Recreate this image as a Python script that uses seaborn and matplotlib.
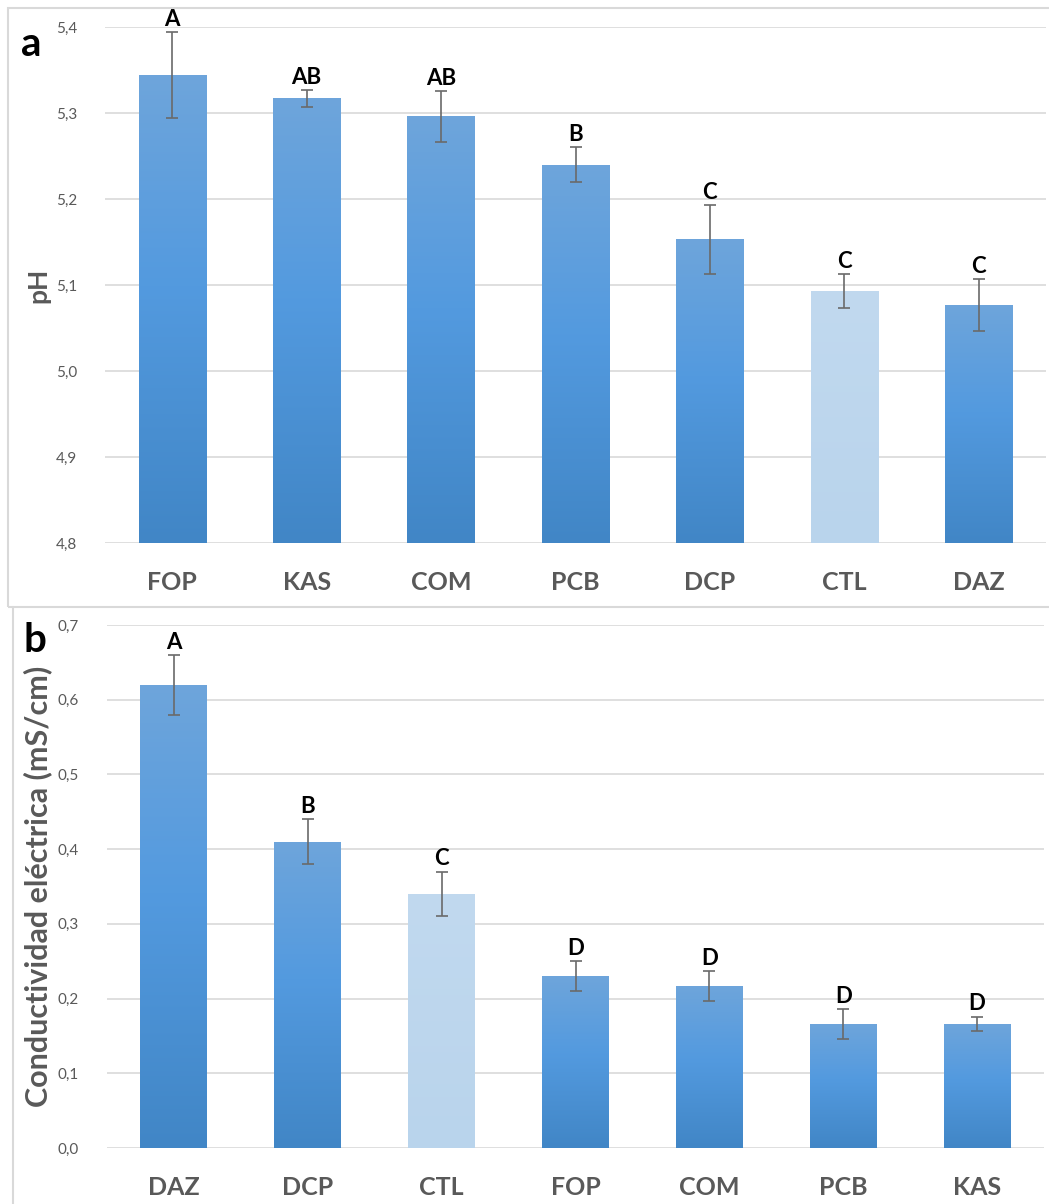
import numpy as np
import pandas as pd
import matplotlib
matplotlib.use("Agg")
import matplotlib.pyplot as plt
from matplotlib.colors import LinearSegmentedColormap
from matplotlib.lines import Line2D
from matplotlib.patches import Rectangle
from matplotlib.ticker import FuncFormatter, MultipleLocator
import seaborn as sns

# pH by treatment
ph_treat = ["FOP", "KAS", "COM", "PCB", "DCP", "CTL", "DAZ"]
ph_mean = [5.344, 5.317, 5.296, 5.240, 5.153, 5.093, 5.077]
ph_err = [0.050, 0.010, 0.030, 0.020, 0.040, 0.020, 0.030]
ph_group = ["A", "AB", "AB", "B", "C", "C", "C"]

# Electrical conductivity by treatment
ce_treat = ["DAZ", "DCP", "CTL", "FOP", "COM", "PCB", "KAS"]
ce_mean = [0.620, 0.410, 0.340, 0.230, 0.217, 0.166, 0.166]
ce_err = [0.040, 0.030, 0.030, 0.020, 0.020, 0.020, 0.010]
ce_group = ["A", "B", "C", "D", "D", "D", "D"]

sns.set_theme(style="white")
plt.rcParams["font.family"] = ["Lato", "DejaVu Sans"]

W, H = 1049, 1204
fig = plt.figure(figsize=(W / 100, H / 100), dpi=100)

BLUE = "#5B9BD5"
LIGHT = "#BDD7EE"
GRID = "#D9D9D9"
TXT = "#595959"

blue_cmap = LinearSegmentedColormap.from_list(
    "bar_blue", [(0.0, "#4186C6"), (0.55, "#539ADF"), (1.0, "#6EA5DB")])
light_cmap = LinearSegmentedColormap.from_list(
    "bar_light", [(0.0, "#B9D4EC"), (1.0, "#C1D9EF")])


def px_axes(left, top, right, bottom):
    return fig.add_axes([left / W, 1 - bottom / H, (right - left) / W, (bottom - top) / H])


def draw_panel(ax, treat, mean, err, groups, ylim, step, ylabel, ylabel_size,
               letter, letter_xy, label_x):
    df = pd.DataFrame({"trat": treat, "valor": mean})
    colors = [LIGHT if t == "CTL" else BLUE for t in treat]
    sns.barplot(data=df, x="trat", y="valor", hue="trat", palette=colors,
                width=0.5, legend=False, ax=ax, zorder=2, linewidth=0)
    ax.set_ylim(*ylim)
    ax.set_xlim(-0.5, len(treat) - 0.5)

    # vertical gradient fill inside each bar
    grad = np.linspace(0, 1, 256).reshape(-1, 1)
    for patch, t in zip(ax.patches, treat):
        x0, y0 = patch.get_x(), patch.get_y()
        w, h = patch.get_width(), patch.get_height()
        yb = max(y0, ylim[0])
        im = ax.imshow(grad, extent=[x0, x0 + w, yb, y0 + h], origin="lower",
                       aspect="auto", cmap=light_cmap if t == "CTL" else blue_cmap,
                       zorder=2.1, interpolation="bicubic")
        im.set_clip_path(patch)
    ax.set_ylim(*ylim)
    ax.set_xlim(-0.5, len(treat) - 0.5)

    xs = np.arange(len(treat))
    ax.errorbar(xs, mean, yerr=err, fmt="none", ecolor="#6A6A6A",
                elinewidth=1.2, capsize=4, capthick=1.2, zorder=3)
    for x, m, e, g in zip(xs, mean, err, groups):
        ax.annotate(g, (x, m + e), xytext=(0, 1.5), textcoords="offset points",
                    ha="center", va="bottom", fontsize=16, fontweight="bold",
                    color="black", annotation_clip=False, zorder=4)

    ax.yaxis.set_major_locator(MultipleLocator(step))
    ax.yaxis.set_major_formatter(FuncFormatter(lambda v, p: f"{v:.1f}".replace(".", ",")))
    ax.grid(axis="y", color=GRID, linewidth=1.2, zorder=0)
    ax.grid(axis="x", visible=False)
    for s in ax.spines.values():
        s.set_visible(False)
    ax.tick_params(axis="y", length=0, pad=20, labelsize=11, labelcolor=TXT)
    ax.tick_params(axis="x", length=0, pad=20, labelsize=18, labelcolor=TXT)
    for lab in ax.get_xticklabels():
        lab.set_fontweight("bold")
    ax.set_xlabel("")
    ax.set_ylabel(ylabel, fontsize=ylabel_size, fontweight="bold", color=TXT)
    ax.yaxis.set_label_coords(label_x, 0.5)
    fig.text(letter_xy[0] / W, 1 - letter_xy[1] / H, letter, fontsize=29,
             fontweight="bold", color="black", ha="center", va="center")


ax_a = px_axes(105, 27, 1046, 543)
draw_panel(ax_a, ph_treat, ph_mean, ph_err, ph_group, (4.8, 5.4), 0.1, "pH", 19,
           "a", (31, 44), -0.058)

ax_b = px_axes(107, 625, 1044, 1148)
draw_panel(ax_b, ce_treat, ce_mean, ce_err, ce_group, (0.0, 0.7), 0.1,
           "Conductividad eléctrica (mS/cm)", 22, "b", (35, 641), -0.058)

# panel frames
fig.add_artist(Rectangle((8 / W, 1 - 607 / H), (W + 5 - 8) / W, (607 - 8) / H,
                         transform=fig.transFigure, fill=False, edgecolor=GRID,
                         linewidth=1.5, clip_on=False))
fig.add_artist(Line2D([13 / W, 13 / W], [1 - 607 / H, 0], transform=fig.transFigure,
                      color=GRID, linewidth=1.5))

fig.savefig("out.png", dpi=100, facecolor="white")
